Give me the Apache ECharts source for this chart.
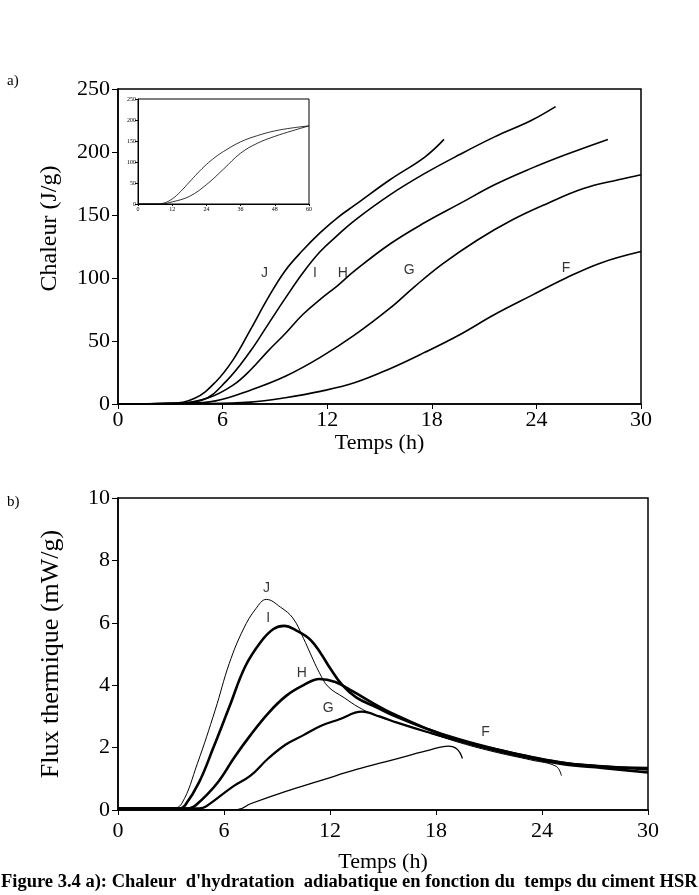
<!DOCTYPE html>
<html>
<head>
<meta charset="utf-8">
<script src="https://cdn.jsdelivr.net/npm/echarts@6/dist/echarts.min.js"></script>
<style>
html, body { margin: 0; padding: 0; background: #fff; }
#main { width: 699px; height: 895px; }
</style>
</head>
<body>
<div id="main"></div>
<script>
// a) chaleur cumulée (J/g) en fonction du temps (h)
var chaleurJ = [[0,0],[3,0.5],[4.4,4.5],[5.6,17.5],[6.6,35],[7.6,59],[8.6,84],[9.6,106],[10.6,122],[11.6,136],[12.6,148],[13.6,158],[15.6,178],[17.6,196],[18.7,210]];
var chaleurI = [[0,0],[3.2,0.5],[4.8,3],[6.2,18],[7.6,42],[8.6,63],[9.6,84],[10.6,104],[11.6,121],[12.6,134],[13.6,146],[15.6,166],[17.6,183],[19.6,198],[21.6,212],[23.7,225],[25.1,236]];
var chaleurH = [[0,0],[3.4,0.5],[5.2,5],[6.6,15],[7.6,27],[8.6,42],[9.6,56],[10.6,71],[11.6,83],[12.6,94],[13.6,106],[15.6,127],[17.6,144],[19.6,159],[21.6,174],[23.7,187],[25.7,198],[28.1,210]];
var chaleurG = [[0,0],[3.6,0.5],[5.6,2.5],[7.6,11],[9.6,22],[11.6,37],[13.6,55],[15.6,76],[17,93],[18.6,111],[20.6,130],[22.6,146],[24.6,159],[26.7,171],[28.7,178],[30,182]];
var chaleurF = [[0,0],[5,0.3],[7.6,1.5],[9.6,5],[11.6,10],[13.6,17],[15.6,28],[17.6,41],[19.6,55],[21.6,71],[23.7,86],[25.7,100],[27.7,112],[30,121]];
var labelsA = [['J', 8.4, 104], ['I', 11.3, 104], ['H', 12.9, 104], ['G', 16.7, 106], ['F', 25.7, 108]];

// encart : 0-60 h
var encartHaut = [[0,0],[6,0],[9,2],[12,12],[15,30],[18,52],[21,74],[24,94],[27,111],[30,125],[36,148],[42,163],[48,174],[54,181],[60,186]];
var encartBas = [[0,0],[8,0],[12,5],[18,18],[24,46],[30,83],[36,121],[42,145],[48,161],[54,174],[60,186]];

// b) flux thermique (mW/g)
var fluxJ = [[0,0.05],[3,0.05],[3.6,0.2],[4.5,1.5],[5.5,3.2],[6.3,4.7],[7.1,5.8],[7.8,6.45],[8.4,6.75],[9.2,6.5],[9.9,6.15],[10.5,5.5],[10.9,5],[11.4,4.4],[11.9,3.95],[12.8,3.6],[13.6,3.3],[14.5,3.05],[15.5,2.85],[17.5,2.5],[19.4,2.15],[21.4,1.85],[23.4,1.6],[24.8,1.4],[25.1,1.1]];
var fluxI = [[0,0.05],[3.5,0.05],[3.8,0.15],[4.6,0.9],[5.4,2],[6.3,3.3],[7.2,4.6],[8.1,5.4],[8.8,5.8],[9.4,5.9],[10.1,5.75],[10.9,5.45],[11.5,5],[12,4.55],[12.7,4],[13.5,3.6],[14.6,3.3],[15.5,3.05],[17.5,2.6],[19.4,2.25],[21.4,1.95],[23.4,1.7],[25.4,1.5],[27.4,1.4],[30,1.3]];
var fluxH = [[0,0.05],[4,0.05],[4.4,0.15],[5.6,0.85],[6.6,1.7],[7.5,2.4],[8.5,3.1],[9.5,3.65],[10.5,4],[11.4,4.2],[12.3,4.1],[13.3,3.8],[14.5,3.4],[15.5,3.1],[17.5,2.6],[19.4,2.2],[21.4,1.9],[23.4,1.65],[25.4,1.45],[27.4,1.35],[30,1.2]];
var fluxG = [[0,0.05],[4.6,0.05],[5,0.12],[6.5,0.75],[7.5,1.1],[8.5,1.65],[9.5,2.1],[10.5,2.4],[11.5,2.7],[12.5,2.9],[13.8,3.15],[14.8,3],[15.8,2.8],[17.5,2.5],[19.4,2.2],[21.4,1.95],[23.4,1.7],[25.4,1.5],[27.4,1.4],[30,1.35]];
var fluxF = [[0,0],[6.8,0.02],[7.5,0.2],[9.5,0.6],[11.5,0.95],[13.5,1.3],[15.5,1.6],[17.5,1.9],[18.7,2.05],[19.2,1.95],[19.5,1.65]];
var labelsB = [['J', 8.4, 7.1], ['I', 8.5, 6.15], ['H', 10.4, 4.4], ['G', 11.9, 3.25], ['F', 20.8, 2.5]];

var SERIF = '"Liberation Serif", "Times New Roman", serif';
var SANS = '"Liberation Sans", Arial, sans-serif';

function courbe(data, idx, width) {
    return {
        type: 'line', xAxisIndex: idx, yAxisIndex: idx, data: data,
        symbol: 'none', smooth: 0.4, silent: true, z: 6,
        lineStyle: { color: '#000', width: width }
    };
}

function etiquettes(list, idx) {
    return {
        type: 'scatter', xAxisIndex: idx, yAxisIndex: idx, symbolSize: 0, silent: true,
        data: list.map(function (d) { return [d[1], d[2], d[0]]; }),
        label: {
            show: true, position: 'inside', color: '#000', fontFamily: SANS, fontSize: 14,
            formatter: function (p) { return p.data[2]; }
        }
    };
}

function axeX(idx, max, interval, size, name, gap, margin) {
    return {
        gridIndex: idx, type: 'value', min: 0, max: max, interval: interval,
        axisLine: { lineStyle: { color: '#000', width: size > 10 ? 1.5 : 1 } },
        axisTick: { length: size > 10 ? 5 : 2, lineStyle: { color: '#000' } },
        axisLabel: { color: '#000', fontFamily: SERIF, fontSize: size, margin: margin },
        splitLine: { show: false },
        name: name, nameLocation: 'middle', nameGap: gap,
        nameTextStyle: { color: '#000', fontFamily: SERIF, fontSize: 22 }
    };
}

function axeY(idx, max, interval, size, name, gap, nameSize, shift) {
    return {
        gridIndex: idx, type: 'value', min: 0, max: max, interval: interval,
        axisLine: { lineStyle: { color: '#000', width: size > 10 ? 1.5 : 1 } },
        axisTick: { length: size > 10 ? 6 : 3, lineStyle: { color: '#000' } },
        axisLabel: { color: '#000', fontFamily: SERIF, fontSize: size, margin: size > 10 ? 8 : 2 },
        splitLine: { show: false },
        name: name, nameLocation: 'middle', nameGap: gap,
        nameTextStyle: { color: '#000', fontFamily: SERIF, fontSize: nameSize, padding: [0, 0, 0, shift] }
    };
}

var chart = echarts.init(document.getElementById('main'));
var option = {
    backgroundColor: '#fff',
    animation: false,
    grid: [
        { left: 118, top: 89, width: 523, height: 315, show: true, borderColor: '#000', borderWidth: 1.5 },
        { left: 138, top: 99, width: 171, height: 105, show: true, borderColor: '#000', borderWidth: 1 },
        { left: 118, top: 498, width: 530, height: 312, show: true, borderColor: '#000', borderWidth: 1.5 }
    ],
    xAxis: [
        axeX(0, 30, 6, 22, 'Temps (h)', 27, 5),
        axeX(1, 60, 12, 6, '', 0, 2),
        axeX(2, 30, 6, 22, 'Temps (h)', 41, 10)
    ],
    yAxis: [
        axeY(0, 250, 50, 22, 'Chaleur (J/g)', 56, 24, 36),
        axeY(1, 250, 50, 6, '', 0, 6, 0),
        axeY(2, 10, 2, 22, 'Flux thermique (mW/g)', 54, 26, 0)
    ],
    graphic: [
        { type: 'text', left: 7, top: 74, style: { text: 'a)', font: '15px ' + SERIF, fill: '#000' } },
        { type: 'text', left: 7, top: 495, style: { text: 'b)', font: '15px ' + SERIF, fill: '#000' } },
        { type: 'text', left: 1, top: 873, style: { text: "Figure 3.4 a): Chaleur  d'hydratation  adiabatique en fonction du  temps du ciment HSR", font: 'bold 18.5px ' + SERIF, fill: '#000' } }
    ],
    series: [
        courbe(chaleurJ, 0, 1.6),
        courbe(chaleurI, 0, 1.6),
        courbe(chaleurH, 0, 1.6),
        courbe(chaleurG, 0, 1.6),
        courbe(chaleurF, 0, 1.6),
        etiquettes(labelsA, 0),
        courbe(encartHaut, 1, 0.8),
        courbe(encartBas, 1, 0.8),
        courbe(fluxJ, 2, 1),
        courbe(fluxI, 2, 2.6),
        courbe(fluxH, 2, 2.6),
        courbe(fluxG, 2, 2.2),
        courbe(fluxF, 2, 1.3),
        etiquettes(labelsB, 2)
    ]
};
chart.setOption(option);
</script>
</body>
</html>
